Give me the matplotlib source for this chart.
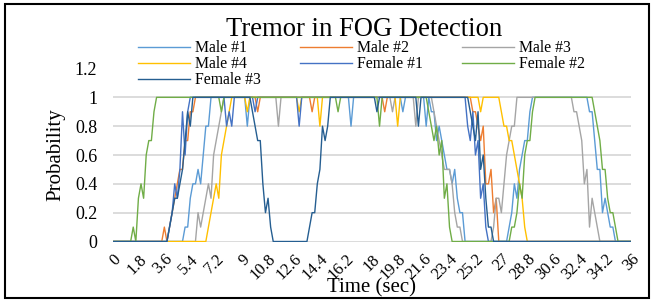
import numpy as np
import matplotlib.pyplot as plt
from matplotlib.patches import Rectangle

plt.rcParams['font.family'] = ['Liberation Serif', 'DejaVu Serif']

# 201 samples, 0.18 s apart (0 .. 36 s); x labels every 10 samples
tick_labels = ['0', '1.8', '3.6', '5.4', '7.2', '9', '10.8', '12.6', '14.4', '16.2', '18',
               '19.8', '21.6', '23.4', '25.2', '27', '28.8', '30.6', '32.4', '34.2', '36']

male1 = ([0] * 28 + [0.1, 0.1, 0.3, 0.4, 0.4, 0.5, 0.4, 0.6, 0.8, 0.8] + [1] * 14 + [0.8]
         + [1] * 39 + [0.8] + [1] * 19 + [0.9] + [1] * 8 + [0.8] + [1]
         + [0.9, 0.9, 0.7, 0.8, 0.7, 0.6, 0.5, 0.5, 0.4, 0.5, 0.3, 0.2, 0.2] + [0] * 17
         + [0.1, 0.2, 0.4, 0.3, 0.5, 0.6, 0.7, 0.7, 0.9] + [1] * 22
         + [0.9, 0.9, 0.7, 0.5, 0.5, 0.2, 0.3, 0.2, 0.1, 0.1] + [0] * 7)
male2 = ([0] * 20 + [0.1, 0] + [0.1, 0.2, 0.3, 0.4, 0.5, 0.5, 0.7, 0.7, 0.9, 0.9] + [1] * 24
         + [0.9] + [1] * 20 + [0.9] + [1] * 27 + [0.9] + [1] * 33
         + [0.9, 0.9, 0.8, 0.7, 0.8, 0.4, 0.4, 0.5, 0.2, 0.3] + [0] * 52)
male3 = ([0] * 33 + [0.2, 0.1, 0.2, 0.3, 0.4, 0.3, 0.6, 0.7, 0.8, 0.9] + [1] * 21 + [0.8]
         + [1] * 43 + [0.9] + [1] * 8 + [0.8] + [1] * 6
         + [0.9, 0.8, 0.7, 0.6, 0.5, 0.5, 0.5, 0.4, 0.2, 0.1, 0.1] + [0] * 12
         + [0.1, 0.3, 0.3, 0.2, 0.4, 0.6, 0.7, 0.8, 0.8] + [1] * 22
         + [0.9, 0.9, 0.8, 0.7, 0.4, 0.5, 0.1, 0.3, 0.2, 0.1] + [0] * 13)
male4 = ([0] * 37 + [0.1, 0.2, 0.3, 0.4, 0.3, 0.6, 0.7, 0.8, 0.9] + [1] * 6 + [0.9]
         + [1] * 19 + [0.9] + [1] * 7 + [0.8] + [1] * 29 + [0.8] + [1] * 31 + [0.9]
         + [1] * 7 + [0.9, 0.8, 0.8, 0.7, 0.7, 0.6, 0.5, 0.4, 0.3, 0.1] + [0] * 41)
female1 = ([0] * 22 + [0.1, 0.2, 0.4, 0.3, 0.5, 0.9, 0.6, 0.9] + [1] * 14 + [0.8, 0.9, 0.8]
           + [1] * 8 + [0.9] + [1] * 16 + [0.8] + [1] * 64
           + [0.8, 0.7, 0.9, 0.6, 0.7, 0.3, 0.4, 0.1] + [0] * 56)
female2 = ([0] * 8 + [0.1, 0, 0.3, 0.4, 0.3, 0.6, 0.7, 0.7, 0.9] + [1] * 25 + [0.9]
           + [1] * 44 + [0.9] + [1] * 15 + [0.8] + [1] * 18
           + [0.9, 0.8, 0.7, 0.8, 0.6, 0.7, 0.3, 0.4, 0.1] + [0] * 23
           + [0.1, 0.1, 0.2, 0.4, 0.3, 0.6, 0.7, 0.7, 0.9] + [1] * 23
           + [0.9, 0.8, 0.7, 0.5, 0.5, 0.3, 0.2, 0.2, 0.1] + [0] * 6)
female3 = ([0] * 22 + [0.1, 0.2, 0.3, 0.3, 0.4, 0.5, 0.7, 0.9, 0.8] + [1] * 23
           + [0.9, 0.8, 0.7, 0.7, 0.4, 0.2, 0.3, 0.1] + [0] * 14
           + [0.1, 0.2, 0.2, 0.4, 0.5, 0.8, 0.7, 0.8] + [1] * 18 + [0.9] + [1] * 15 + [0.8]
           + [1] * 19 + [0.9, 0.8, 0.7, 0.9, 0.5, 0.6, 0.3, 0.1, 0.1] + [0] * 54)

series = [('Male #1', male1, '#5B9BD5'), ('Male #2', male2, '#ED7D31'),
          ('Male #3', male3, '#A5A5A5'), ('Male #4', male4, '#FFC000'),
          ('Female #1', female1, '#4472C4'), ('Female #2', female2, '#70AD47'),
          ('Female #3', female3, '#255E91')]

fig = plt.figure(figsize=(6.54, 3.02), dpi=100)
ax = fig.add_axes([112.5 / 654, 60.5 / 302, 518.5 / 654, 173 / 302])

lines = []
for name, vals, col in series:
    ln, = ax.plot(np.arange(len(vals)), vals, color=col, lw=1.0, label=name)
    lines.append(ln)

ax.set_xlim(0, 200)
ax.set_ylim(0, 1.2)
ax.set_yticks([0, 0.2, 0.4, 0.6, 0.8, 1.0, 1.2])
ax.set_yticklabels(['0', '0.2', '0.4', '0.6', '0.8', '1', '1.2'], fontsize=13)
ax.set_xticks(np.arange(0, 201, 10))
ax.set_xticklabels(tick_labels, fontsize=12, rotation=45, ha='right', va='top',
                   rotation_mode='anchor')
ax.tick_params(axis='y', length=0, pad=11)
ax.tick_params(axis='x', length=0, pad=7)
ax.grid(axis='y', color='#D9D9D9', lw=1.3)
ax.set_axisbelow(True)
for s in ax.spines.values():
    s.set_visible(False)

ax.set_ylabel('Probability', fontsize=15, labelpad=7)
ax.set_xlabel('Time (sec)', fontsize=15, labelpad=-4)

fig.text(364.5 / 654, 1 - 35.5 / 302, 'Tremor in FOG Detection', fontsize=19.2,
         ha='center', va='baseline')

# legend fills column by column, so order the entries to read row by row
order = [0, 3, 6, 1, 4, 2, 5]
fig.legend([lines[i] for i in order], [series[i][0] for i in order],
           loc='upper left', bbox_to_anchor=(138 / 654, 1 - 40 / 302), ncol=3,
           frameon=False, fontsize=11.3, handlelength=3.3, handletextpad=0.32,
           columnspacing=2.5, labelspacing=0.0, borderpad=0, borderaxespad=0)

fig.patches.append(Rectangle((5 / 654, 4 / 302), 644 / 654, 294 / 302,
                             transform=fig.transFigure, fill=False, ec='black', lw=1.5))

fig.savefig('out.png', dpi=100)
